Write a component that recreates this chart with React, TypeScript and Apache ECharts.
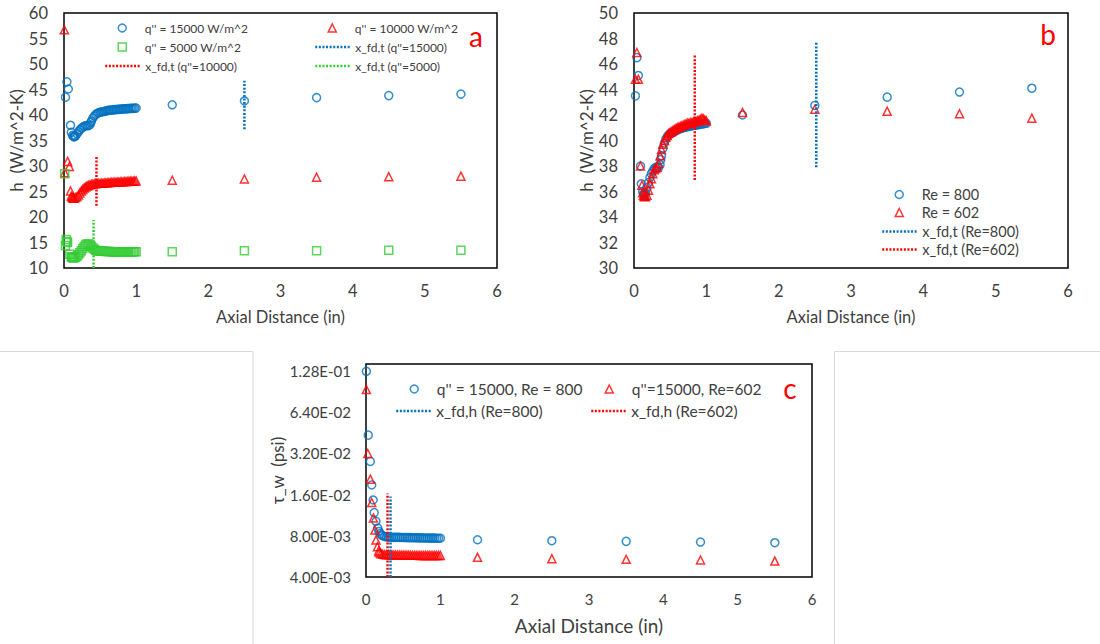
import React, { useEffect, useRef } from "react";
import * as echarts from "echarts";

type Pt = [number, number];

// ---------- tick label values ----------
const distTicks = [0, 1, 2, 3, 4, 5, 6];
const hTicksA = [10, 15, 20, 25, 30, 35, 40, 45, 50, 55, 60];
const hTicksB = [30, 32, 34, 36, 38, 40, 42, 44, 46, 48, 50];
const tauTicks = [0.004, 0.008, 0.016, 0.032, 0.064, 0.128];
const tauAxisMax = 0.1435;

// ---------- series names ----------
const nA15 = "q'' = 15000 W/m^2";
const nA10 = "q'' = 10000 W/m^2";
const nA5 = "q'' = 5000 W/m^2";
const nAX15 = "x_fd,t (q''=15000)";
const nAX10 = "x_fd,t (q''=10000)";
const nAX5 = "x_fd,t (q''=5000)";
const nB800 = "Re = 800";
const nB602 = "Re = 602";
const nBX800 = "x_fd,t (Re=800)";
const nBX602 = "x_fd,t (Re=602)";
const nC800 = "q'' = 15000, Re = 800";
const nC602 = "q''=15000, Re=602";
const nCX800 = "x_fd,h (Re=800)";
const nCX602 = "x_fd,h (Re=602)";

// ---------- h data: q'' = 15000 W/m^2, Re = 800 (panels a and b) ----------
const h15000Re800: Pt[] = [
  [0.02, 43.5], [0.04, 46.5], [0.06, 45.1], [0.09, 38.0], [0.10, 36.6],
  [0.12, 36.0], [0.13, 35.8], [0.14, 35.7], [0.15, 35.8], [0.16, 35.9], [0.18, 36.3],
  [0.20, 36.7], [0.22, 37.1], [0.24, 37.4], [0.26, 37.6], [0.28, 37.8], [0.30, 37.9],
  [0.32, 37.9], [0.34, 37.9], [0.36, 38.1], [0.37, 38.5], [0.38, 38.8], [0.40, 39.4],
  [0.42, 39.8], [0.44, 40.1], [0.46, 40.3], [0.48, 40.45], [0.50, 40.55], [0.52, 40.6],
  [0.54, 40.65], [0.56, 40.7], [0.58, 40.8], [0.60, 40.85], [0.62, 40.9], [0.64, 40.95],
  [0.66, 40.95], [0.68, 41.0], [0.70, 41.05], [0.72, 41.05], [0.74, 41.1], [0.76, 41.1],
  [0.78, 41.15], [0.80, 41.15], [0.82, 41.2], [0.84, 41.2], [0.86, 41.2], [0.88, 41.25],
  [0.90, 41.25], [0.92, 41.3], [0.94, 41.3], [0.96, 41.3], [0.98, 41.35], [1.00, 41.35],
  [1.5, 42.0], [2.5, 42.75], [3.5, 43.4], [4.5, 43.8], [5.5, 44.1],
];

// ---------- h data: q'' = 10000 W/m^2 (panel a) ----------
const h10000: Pt[] = [
  [0.005, 56.7], [0.01, 28.7], [0.05, 30.9], [0.075, 29.9], [0.09, 25.1],
  [0.10, 24.1], [0.11, 23.9], [0.12, 23.8], [0.13, 23.7], [0.14, 23.7], [0.16, 23.8],
  [0.18, 24.0], [0.20, 24.3], [0.22, 24.7], [0.24, 25.1], [0.26, 25.4], [0.28, 25.7],
  [0.30, 25.9], [0.32, 26.1], [0.34, 26.2], [0.36, 26.3], [0.38, 26.4], [0.40, 26.45],
  [0.42, 26.5], [0.44, 26.55], [0.46, 26.55], [0.48, 26.6], [0.50, 26.6], [0.52, 26.6],
  [0.54, 26.65], [0.56, 26.65], [0.58, 26.7], [0.60, 26.7], [0.62, 26.75], [0.64, 26.75],
  [0.66, 26.8], [0.68, 26.8], [0.70, 26.8], [0.72, 26.85], [0.74, 26.85], [0.76, 26.85],
  [0.78, 26.9], [0.80, 26.9], [0.82, 26.9], [0.84, 26.95], [0.86, 26.95], [0.88, 26.95],
  [0.90, 27.0], [0.92, 27.0], [0.94, 27.0], [0.96, 27.0], [0.98, 27.05], [1.00, 27.05],
  [1.5, 27.2], [2.5, 27.45], [3.5, 27.8], [4.5, 27.9], [5.5, 28.0],
];

// ---------- h data: q'' = 5000 W/m^2 (panel a) ----------
const h5000: Pt[] = [
  [0.01, 28.5], [0.02, 14.4], [0.03, 15.6], [0.04, 15.2], [0.05, 15.0], [0.08, 12.7],
  [0.10, 12.2], [0.11, 12.1], [0.12, 12.0], [0.13, 12.0], [0.14, 12.0], [0.16, 12.1],
  [0.18, 12.3], [0.20, 12.6], [0.22, 13.0], [0.24, 13.4], [0.26, 13.8], [0.28, 14.2],
  [0.30, 14.5], [0.32, 14.7], [0.34, 14.7], [0.36, 14.5], [0.38, 14.2], [0.40, 13.9],
  [0.42, 13.7], [0.44, 13.5], [0.46, 13.4], [0.48, 13.35], [0.50, 13.3], [0.52, 13.3],
  [0.54, 13.3], [0.56, 13.3], [0.58, 13.25], [0.60, 13.25], [0.62, 13.25], [0.64, 13.25],
  [0.66, 13.2], [0.68, 13.2], [0.70, 13.2], [0.72, 13.2], [0.74, 13.2], [0.76, 13.2],
  [0.78, 13.2], [0.80, 13.2], [0.82, 13.2], [0.84, 13.2], [0.86, 13.2], [0.88, 13.2],
  [0.90, 13.2], [0.92, 13.2], [0.94, 13.2], [0.96, 13.2], [0.98, 13.2], [1.00, 13.2],
  [1.5, 13.2], [2.5, 13.4], [3.5, 13.4], [4.5, 13.5], [5.5, 13.5],
];

// ---------- h data: Re = 602 (panel b) ----------
const hRe602: Pt[] = [
  [0.02, 44.8], [0.04, 46.9], [0.06, 44.8], [0.09, 38.0], [0.11, 36.5],
  [0.12, 35.9], [0.13, 35.7], [0.14, 35.6], [0.15, 35.6], [0.16, 35.6], [0.18, 35.7],
  [0.20, 36.1], [0.22, 36.6], [0.24, 37.0], [0.26, 37.4], [0.28, 37.7], [0.30, 37.8],
  [0.32, 37.9], [0.34, 38.2], [0.36, 38.8], [0.38, 39.3], [0.40, 39.7], [0.42, 40.0],
  [0.44, 40.25], [0.46, 40.4], [0.48, 40.55], [0.50, 40.65], [0.52, 40.7], [0.54, 40.8],
  [0.56, 40.85], [0.58, 40.95], [0.60, 41.0], [0.62, 41.05], [0.64, 41.1], [0.66, 41.15],
  [0.68, 41.2], [0.70, 41.25], [0.72, 41.3], [0.74, 41.35], [0.76, 41.35], [0.78, 41.4],
  [0.80, 41.4], [0.82, 41.45], [0.84, 41.5], [0.86, 41.5], [0.88, 41.55], [0.90, 41.6],
  [0.92, 41.65], [0.94, 41.75], [0.96, 41.7], [0.98, 41.6], [1.00, 41.55],
  [1.5, 42.2], [2.5, 42.45], [3.5, 42.3], [4.5, 42.1], [5.5, 41.75],
];

// ---------- thermal entry lengths (vertical dotted markers) ----------
const xfdA15000: Pt[] = [[2.5, 37.2], [2.5, 46.7]];
const xfdA10000: Pt[] = [[0.45, 22.2], [0.45, 31.8]];
const xfdA5000: Pt[] = [[0.41, 10.0], [0.41, 19.4]];
const xfdB800: Pt[] = [[2.52, 37.9], [2.52, 47.7]];
const xfdB602: Pt[] = [[0.84, 36.9], [0.84, 46.7]];

// ---------- wall shear stress (psi), panel c ----------
const tauRe800: Pt[] = [
  [0.005, 0.127], [0.03, 0.0434], [0.058, 0.0279], [0.077, 0.0188], [0.096, 0.0146],
  [0.11, 0.0118], [0.134, 0.0102], [0.158, 0.0091], [0.175, 0.0086], [0.19, 0.0083],
  [0.21, 0.0081], [0.225, 0.0080], [0.25, 0.0079], [0.275, 0.00785], [0.30, 0.00782],
  [0.325, 0.0078], [0.35, 0.0078], [0.375, 0.00779], [0.40, 0.00779], [0.425, 0.00778],
  [0.45, 0.00778], [0.475, 0.00777], [0.50, 0.00777], [0.525, 0.00776], [0.55, 0.00776],
  [0.575, 0.00775], [0.60, 0.00775], [0.625, 0.00774], [0.65, 0.00774], [0.675, 0.00773],
  [0.70, 0.00773], [0.725, 0.00772], [0.75, 0.00772], [0.775, 0.00771], [0.80, 0.00771],
  [0.825, 0.0077], [0.85, 0.0077], [0.875, 0.00769], [0.90, 0.00769], [0.925, 0.00769],
  [0.95, 0.00768], [0.975, 0.00768], [1.00, 0.00768],
  [1.5, 0.00748], [2.5, 0.00736], [3.5, 0.00728], [4.5, 0.0072], [5.5, 0.00712],
];
const tauRe602: Pt[] = [
  [0.005, 0.0934], [0.024, 0.0319], [0.058, 0.0207], [0.077, 0.014], [0.10, 0.0108],
  [0.12, 0.0088], [0.134, 0.00744], [0.154, 0.00665], [0.17, 0.0062], [0.18, 0.00605],
  [0.20, 0.00592], [0.225, 0.00586], [0.25, 0.00583], [0.275, 0.00582], [0.30, 0.00581],
  [0.325, 0.0058], [0.35, 0.0058], [0.375, 0.00579], [0.40, 0.00579], [0.425, 0.00578],
  [0.45, 0.00578], [0.475, 0.00578], [0.50, 0.00577], [0.525, 0.00577], [0.55, 0.00577],
  [0.575, 0.00577], [0.60, 0.00576], [0.625, 0.00576], [0.65, 0.00576], [0.675, 0.00576],
  [0.70, 0.00576], [0.725, 0.00575], [0.75, 0.00575], [0.775, 0.00575], [0.80, 0.00575],
  [0.825, 0.00575], [0.85, 0.00575], [0.875, 0.00575], [0.90, 0.00575], [0.925, 0.00575],
  [0.95, 0.00575], [0.975, 0.00575], [1.00, 0.00575],
  [1.5, 0.00557], [2.5, 0.00544], [3.5, 0.00538], [4.5, 0.00532], [5.5, 0.00523],
];
const xfdhRe800: Pt[] = [[0.33, 0.004], [0.33, 0.0155]];
const xfdhRe602: Pt[] = [[0.29, 0.004], [0.29, 0.0163]];

// ---------- styling ----------
const FONT = "Lato, 'Open Sans', sans-serif";
const TXT = "#404040";
const BLUE = "#0070C0";
const RED = "#FF0000";
const GREEN = "#33CC33";
const MARK = 8;

const tauBase = tauTicks[0];
const toLog2 = (v: number) => Math.log2(v / tauBase);
const logPts = (pts: Pt[]): Pt[] => pts.map(([x, y]) => [x, toLog2(y)]);

function sci(v: number): string {
  const [m, e] = v.toExponential(2).split("e");
  const n = parseInt(e, 10);
  const sign = n < 0 ? "-" : "+";
  const abs = Math.abs(n);
  return `${m}E${sign}${abs < 10 ? "0" + abs : abs}`;
}

function scatter(name: string, data: Pt[], symbol: string, color: string, gi: number) {
  return {
    type: "scatter",
    name,
    data,
    xAxisIndex: gi,
    yAxisIndex: gi,
    symbol,
    symbolSize: MARK,
    itemStyle: { color: "rgba(255,255,255,0)", borderColor: color, borderWidth: 1.5 },
    emphasis: { disabled: true },
    z: 3,
  };
}

function dotted(name: string, data: Pt[], color: string, gi: number) {
  return {
    type: "line",
    name,
    data,
    xAxisIndex: gi,
    yAxisIndex: gi,
    symbol: "none",
    lineStyle: { color, width: 2.5, type: [2, 1.6] },
    itemStyle: { color },
    emphasis: { disabled: true },
    z: 4,
  };
}

function xAxis(gi: number, fontSize: number, nameSize: number, nameGap: number) {
  return {
    type: "value",
    gridIndex: gi,
    min: distTicks[0],
    max: distTicks[distTicks.length - 1],
    interval: distTicks[1] - distTicks[0],
    name: "Axial Distance (in)",
    nameLocation: "middle",
    nameGap,
    nameTextStyle: { fontFamily: FONT, fontSize: nameSize, color: TXT },
    axisLine: { show: false },
    axisTick: { show: false },
    splitLine: { show: false },
    axisLabel: { fontFamily: FONT, fontSize, color: TXT, margin: 14 },
  };
}

function hAxis(gi: number, ticks: number[], nameGap: number) {
  return {
    type: "value",
    gridIndex: gi,
    min: ticks[0],
    max: ticks[ticks.length - 1],
    interval: ticks[1] - ticks[0],
    name: "h  (W/m^2-K)",
    nameLocation: "middle",
    nameGap,
    nameTextStyle: { fontFamily: FONT, fontSize: 17, color: TXT },
    axisLine: { show: false },
    axisTick: { show: false },
    splitLine: { show: false },
    axisLabel: { fontFamily: FONT, fontSize: 16.5, color: TXT, margin: 16 },
  };
}

const tauAxis = {
  type: "value",
  gridIndex: 2,
  min: 0,
  max: toLog2(tauAxisMax),
  interval: 1,
  name: "τ_w  (psi)",
  nameLocation: "middle",
  nameGap: 78,
  nameTextStyle: { fontFamily: FONT, fontSize: 17, color: TXT },
  axisLine: { show: false },
  axisTick: { show: false },
  splitLine: { show: false },
  axisLabel: {
    fontFamily: FONT,
    fontSize: 15,
    color: TXT,
    margin: 15,
    formatter: (v: number) => {
      const k = Math.round(v);
      if (Math.abs(v - k) > 1e-6 || k < 0 || k >= tauTicks.length) return "";
      return sci(tauTicks[k]);
    },
  },
};

// legend slots: left = left edge of a 35px key area, text starts at left + 40
const legendSpecs = [
  { name: nA15, left: 104, cy: 26, size: 12, mark: true },
  { name: nA10, left: 314, cy: 26, size: 12, mark: true },
  { name: nA5, left: 104, cy: 45, size: 12, mark: true },
  { name: nAX15, left: 314, cy: 45, size: 12, mark: false },
  { name: nAX10, left: 104, cy: 64, size: 12, mark: false },
  { name: nAX5, left: 314, cy: 64, size: 12, mark: false },
  { name: nB800, left: 881, cy: 191, size: 14.5, mark: true },
  { name: nB602, left: 881, cy: 209, size: 14.5, mark: true },
  { name: nBX800, left: 881, cy: 228, size: 14.5, mark: false },
  { name: nBX602, left: 881, cy: 246, size: 14.5, mark: false },
  { name: nC800, left: 396, cy: 385, size: 15.5, mark: true },
  { name: nC602, left: 591, cy: 385, size: 15.5, mark: true },
  { name: nCX800, left: 395, cy: 407, size: 15.5, mark: false },
  { name: nCX602, left: 590, cy: 407, size: 15.5, mark: false },
];

const legends = legendSpecs.map((s) =>
  s.mark
    ? {
        data: [s.name],
        left: s.left + (35 - MARK) / 2,
        top: s.cy - MARK / 2,
        padding: 0,
        itemWidth: MARK,
        itemHeight: MARK,
        itemGap: 0,
        selectedMode: false,
        symbolKeepAspect: true,
        textStyle: {
          fontFamily: FONT,
          fontSize: s.size,
          color: TXT,
          padding: [0, 0, 0, (35 - MARK) / 2],
        },
        itemStyle: { borderWidth: 1.5 },
      }
    : {
        data: [s.name],
        left: s.left,
        top: s.cy - 4,
        padding: 0,
        itemWidth: 35,
        itemHeight: 8,
        itemGap: 0,
        selectedMode: false,
        textStyle: { fontFamily: FONT, fontSize: s.size, color: TXT },
        itemStyle: { opacity: 0 },
        lineStyle: { width: 2.5 },
      }
);

const gridBase = { show: true, borderColor: "#000", borderWidth: 1.5, backgroundColor: "transparent" };

const option: any = {
  animation: false,
  backgroundColor: "#fff",
  textStyle: { fontFamily: FONT },
  grid: [
    { ...gridBase, left: 64, top: 13, width: 433, height: 255 },
    { ...gridBase, left: 634, top: 13, width: 434, height: 255 },
    { ...gridBase, left: 366, top: 364, width: 446, height: 213 },
  ],
  xAxis: [xAxis(0, 16.5, 16.5, 40), xAxis(1, 16.5, 16.5, 40), xAxis(2, 15, 19, 39)],
  yAxis: [hAxis(0, hTicksA, 36), hAxis(1, hTicksB, 37), tauAxis],
  legend: legends,
  series: [
    scatter(nA15, h15000Re800, "circle", BLUE, 0),
    scatter(nA10, h10000, "triangle", RED, 0),
    scatter(nA5, h5000, "rect", GREEN, 0),
    dotted(nAX15, xfdA15000, BLUE, 0),
    dotted(nAX10, xfdA10000, RED, 0),
    dotted(nAX5, xfdA5000, GREEN, 0),
    scatter(nB800, h15000Re800, "circle", BLUE, 1),
    scatter(nB602, hRe602, "triangle", RED, 1),
    dotted(nBX800, xfdB800, BLUE, 1),
    dotted(nBX602, xfdB602, RED, 1),
    scatter(nC800, logPts(tauRe800), "circle", BLUE, 2),
    scatter(nC602, logPts(tauRe602), "triangle", RED, 2),
    dotted(nCX800, logPts(xfdhRe800), BLUE, 2),
    dotted(nCX602, logPts(xfdhRe602), RED, 2),
  ],
  graphic: [
    { type: "rect", silent: true, shape: { x: -2, y: 351.5, width: 255, height: 300 }, style: { fill: "none", stroke: "#D9D9D9", lineWidth: 1 } },
    { type: "rect", silent: true, shape: { x: 834.5, y: 351.5, width: 270, height: 300 }, style: { fill: "none", stroke: "#D9D9D9", lineWidth: 1 } },
    { type: "text", x: 476, y: 36, style: { text: "a", fill: RED, font: `28px ${FONT}`, align: "center", verticalAlign: "middle" } },
    { type: "text", x: 1048, y: 34, style: { text: "b", fill: RED, font: `28px ${FONT}`, align: "center", verticalAlign: "middle" } },
    { type: "text", x: 790, y: 388, style: { text: "c", fill: RED, font: `28px ${FONT}`, align: "center", verticalAlign: "middle" } },
  ],
};

export default function App() {
  const ref = useRef<HTMLDivElement>(null);
  useEffect(() => {
    document.body.style.margin = "0";
    if (!ref.current) return;
    const chart = echarts.init(ref.current, null, { renderer: "svg" });
    chart.setOption(option);
    return () => chart.dispose();
  }, []);
  return (
    <div
      ref={ref}
      style={{ position: "absolute", left: 0, top: 0, width: 1100, height: 644, background: "#fff" }}
    />
  );
}
